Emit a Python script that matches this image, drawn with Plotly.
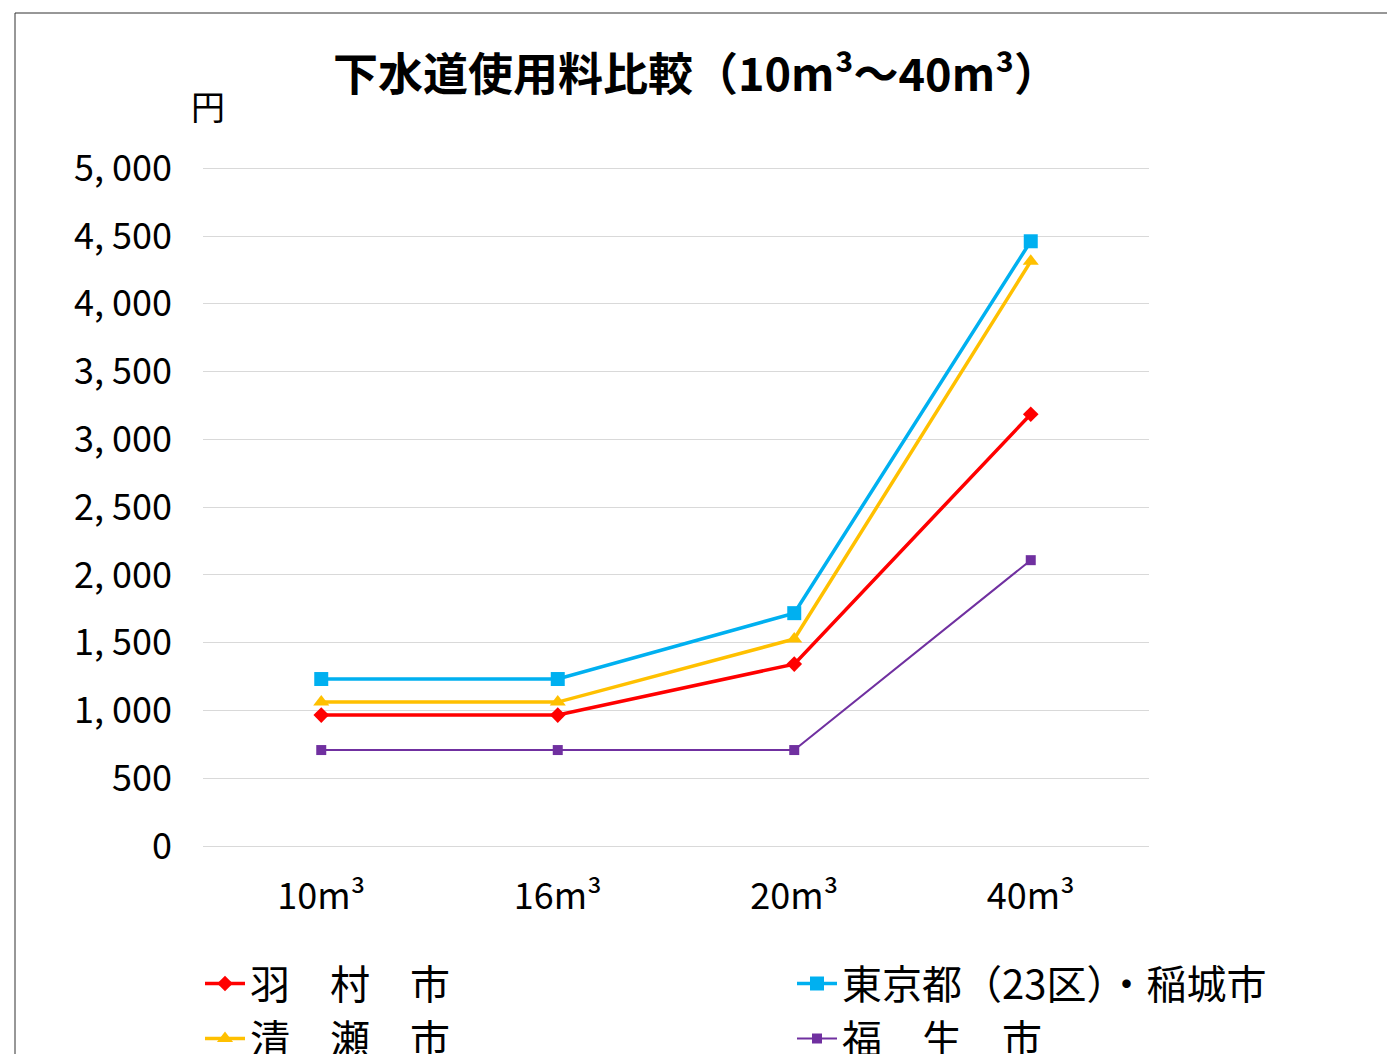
import plotly.graph_objects as go

categories = ["10m³", "16m³", "20m³", "40m³"]
hamura = [966, 966, 1342, 3186]
tokyo = [1232, 1232, 1718, 4462]
kiyose = [1062, 1062, 1527, 4314]
fussa = [708, 708, 708, 2109]

y_tick_vals = [0, 500, 1000, 1500, 2000, 2500, 3000, 3500, 4000, 4500, 5000]
y_tick_text = ["0", "500", "1, 000", "1, 500", "2, 000", "2, 500", "3, 000",
               "3, 500", "4, 000", "4, 500", "5, 000"]

FONT = "Noto Sans CJK JP"

fig = go.Figure()

def add(name, vals, color, symbol, msize, lw, legend, group):
    fig.add_trace(go.Scatter(
        x=categories, y=vals, name=name, mode="lines+markers",
        line=dict(color=color, width=lw),
        marker=dict(color=color, symbol=symbol, size=msize, line=dict(width=0)),
        legend=legend, legendgroup=group,
    ))

add("羽　村　市", hamura, "#FF0000", "diamond", 12, 3.5, "legend", "a")
add("清　瀬　市", kiyose, "#FFC000", "triangle-up", 14, 3.5, "legend", "b")
add("東京都（23区）・稲城市", tokyo, "#00B0F0", "square", 14, 3.5, "legend2", "c")
add("福　生　市", fussa, "#7030A0", "square", 10, 2, "legend2", "d")

OFF = 8  # page body margin
W, H = 1395 - OFF, 1054 - OFF
L = 203 - OFF
T = 168 - OFF - 1
PR = 1149 - OFF
PB = 846 - OFF
R, B = W - PR, H - PB
pw, ph = W - L - R, H - T - B

def px(x):
    return (x - OFF - L) / pw

def py(y):
    return (H - B - (y - OFF)) / ph

legend_common = dict(
    orientation="v", xanchor="left", yanchor="top",
    font=dict(family=FONT, size=40, color="#000000"),
    bgcolor="rgba(0,0,0,0)", tracegroupgap=0, traceorder="normal",
    itemwidth=40,
)

fig.update_layout(
    width=W, height=H,
    margin=dict(l=L, r=R, t=T, b=B, autoexpand=False),
    paper_bgcolor="white", plot_bgcolor="white",
    font=dict(family=FONT, color="#000000"),
    showlegend=True,
    legend=dict(x=px(200), y=py(951), **legend_common),
    legend2=dict(x=px(792), y=py(951), **legend_common),
    xaxis=dict(
        type="category", range=[-0.5, 3.5],
        showgrid=False, showline=False, zeroline=False,
        tickfont=dict(family=FONT, size=36, color="#000000"),
        ticks="", ticklabelstandoff=26,
    ),
    yaxis=dict(
        range=[0, 5010], tickvals=y_tick_vals, ticktext=y_tick_text,
        showgrid=True, gridcolor="#D9D9D9", gridwidth=1,
        zeroline=True, zerolinecolor="#D9D9D9", zerolinewidth=1,
        showline=False, ticks="",
        tickfont=dict(family=FONT, size=36, color="#000000"),
        ticklabelstandoff=30,
    ),
    annotations=[
        dict(text="<b>下水道使用料比較（10m³～40m³）</b>", xref="paper", yref="paper",
             x=px(696), y=py(71), xanchor="center", yanchor="middle",
             showarrow=False, font=dict(family=FONT, size=45, color="#000000")),
        dict(text="円", xref="paper", yref="paper",
             x=px(208), y=py(105), xanchor="center", yanchor="middle",
             showarrow=False, font=dict(family=FONT, size=34, color="#000000")),
    ],
    shapes=[
        dict(type="line", xref="paper", yref="paper",
             x0=px(15), x1=px(15), y0=py(1060), y1=py(13),
             line=dict(color="#303030", width=1)),
        dict(type="line", xref="paper", yref="paper",
             x0=px(15), x1=px(1400), y0=py(13), y1=py(13),
             line=dict(color="#303030", width=1)),
    ],
)

fig.write_html("out.html")
